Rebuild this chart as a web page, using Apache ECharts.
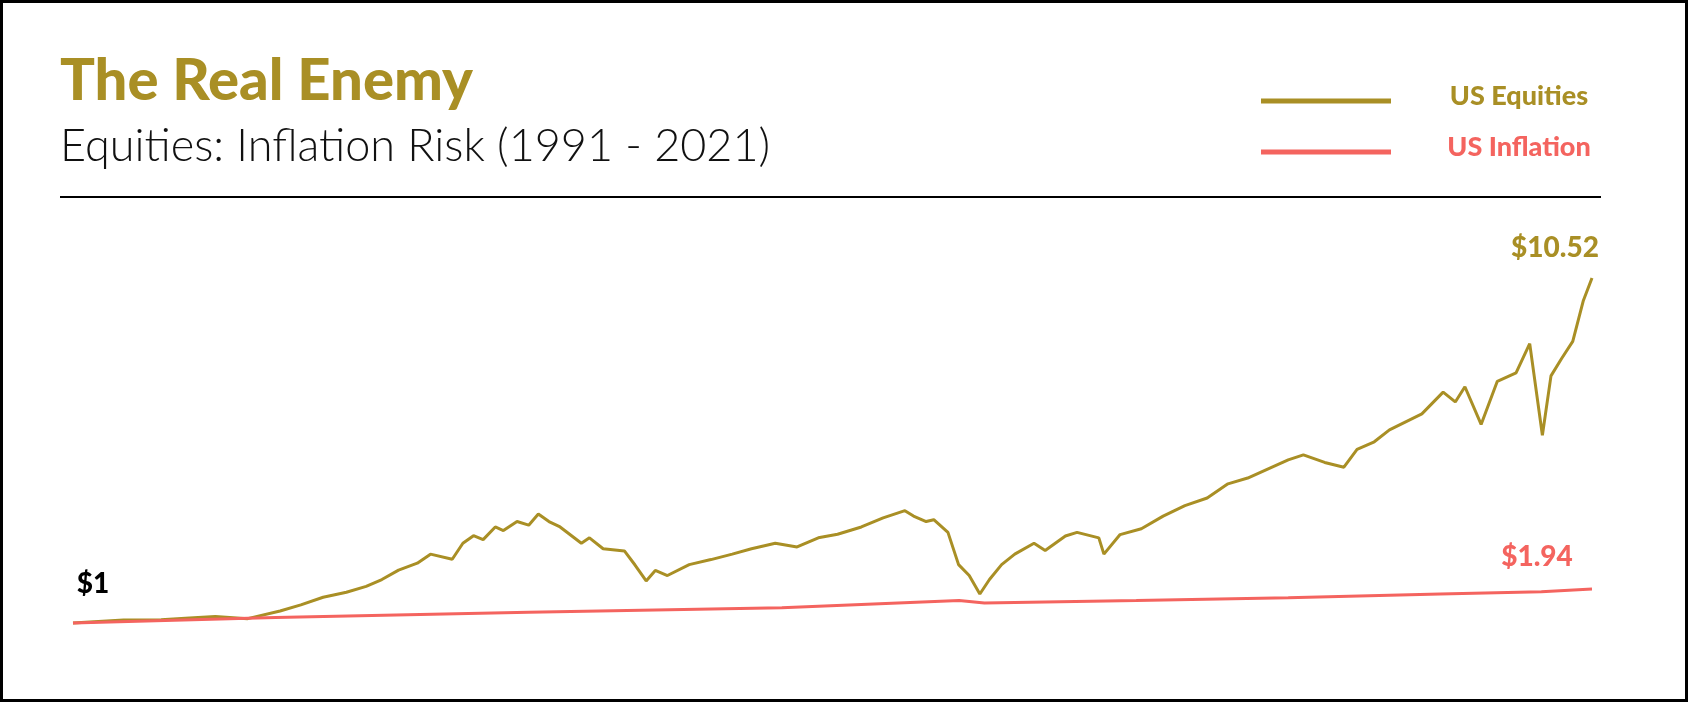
<!DOCTYPE html>
<html>
<head>
<meta charset="utf-8">
<script src="https://cdn.jsdelivr.net/npm/echarts@6/dist/echarts.min.js"></script>
<style>
html,body{margin:0;padding:0;background:#fff}
#chart{width:1688px;height:702px;box-sizing:border-box;border:3px solid #000}
</style>
</head>
<body>
<div id="chart"></div>
<script>
// years (decimal) and growth of $1
const equityYears = [1991.0,1991.5,1992.0,1992.74,1993.3,1993.81,1994.45,1995.09,1995.5,1995.94,1996.4,1996.79,1997.1,1997.43,1997.8,1998.06,1998.49,1998.7,1998.91,1999.1,1999.34,1999.5,1999.77,2000.0,2000.19,2000.4,2000.62,2001.04,2001.2,2001.47,2001.89,2002.1,2002.32,2002.5,2002.74,2003.17,2003.6,2004.02,2004.4,2004.87,2005.3,2005.72,2006.1,2006.57,2007.0,2007.43,2007.6,2007.85,2008.0,2008.28,2008.49,2008.70,2008.91,2009.1,2009.34,2009.6,2009.98,2010.2,2010.40,2010.6,2010.83,2011.26,2011.36,2011.68,2012.1,2012.53,2012.96,2013.4,2013.81,2014.2,2014.66,2015.0,2015.30,2015.72,2016.1,2016.36,2016.7,2017.0,2017.64,2018.06,2018.3,2018.49,2018.81,2019.13,2019.5,2019.77,2020.02,2020.19,2020.4,2020.62,2020.83,2021.0]
const equityValues = [1.0,1.04,1.08,1.09,1.14,1.18,1.12,1.33,1.5,1.71,1.85,2.01,2.2,2.46,2.65,2.90,2.76,3.2,3.41,3.3,3.65,3.55,3.80,3.7,4.01,3.8,3.65,3.20,3.35,3.05,2.99,2.6,2.16,2.45,2.31,2.61,2.75,2.90,3.05,3.20,3.1,3.35,3.45,3.65,3.9,4.10,3.95,3.80,3.85,3.50,2.61,2.31,1.80,2.2,2.61,2.9,3.20,3.0,3.20,3.4,3.50,3.35,2.90,3.44,3.6,3.95,4.24,4.45,4.84,5.0,5.29,5.5,5.64,5.43,5.3,5.79,6.0,6.33,6.77,7.37,7.1,7.52,6.48,7.67,7.9,8.71,6.18,7.82,8.3,8.77,9.90,10.52]
const inflationYears = [1991,1995,2000,2005,2008.5,2009,2012,2015,2018,2020,2021]
const inflationValues = [1.0,1.15,1.3,1.42,1.62,1.55,1.62,1.7,1.8,1.86,1.94]

const gold = '#a98f25'
const red = '#f4645f'
const font = 'Lato'

let chart = echarts.init(document.getElementById('chart'))
chart.setOption({
  animation: false,
  grid: {left: 70, right: 93, top: 275, bottom: 76},
  xAxis: {type: 'value', min: 1991, max: 2021, show: false},
  yAxis: {type: 'value', min: 1, max: 10.52, show: false},
  series: [
    {type: 'line', data: equityYears.map((y, i) => [y, equityValues[i]]), showSymbol: false, clip: false,
      lineStyle: {color: gold, width: 3}},
    {type: 'line', data: inflationYears.map((y, i) => [y, inflationValues[i]]), showSymbol: false, clip: false,
      lineStyle: {color: red, width: 3}}
  ],
  graphic: [
    {type: 'text', x: 57, y: 78, style: {text: 'The Real Enemy', fill: gold, font: '900 58px ' + font, verticalAlign: 'middle'}},
    {type: 'text', x: 57, y: 143, style: {text: 'Equities: Inflation Risk (1991 - 2021)', fill: '#111', font: '300 45px ' + font, verticalAlign: 'middle'}},
    {type: 'line', shape: {x1: 57, y1: 194, x2: 1598, y2: 194}, style: {stroke: '#000', lineWidth: 2}},
    {type: 'line', shape: {x1: 1258, y1: 98, x2: 1388, y2: 98}, style: {stroke: gold, lineWidth: 5}},
    {type: 'line', shape: {x1: 1258, y1: 149, x2: 1388, y2: 149}, style: {stroke: red, lineWidth: 5}},
    {type: 'text', x: 1516, y: 93, style: {text: 'US Equities', fill: gold, font: '900 27px ' + font, align: 'center', verticalAlign: 'middle'}},
    {type: 'text', x: 1516, y: 144, style: {text: 'US Inflation', fill: red, font: '900 27px ' + font, align: 'center', verticalAlign: 'middle'}},
    {type: 'text', x: 1552, y: 245, style: {text: '$10.52', fill: gold, font: '900 28px ' + font, align: 'center', verticalAlign: 'middle'}},
    {type: 'text', x: 1534, y: 554, style: {text: '$1.94', fill: red, font: '900 28px ' + font, align: 'center', verticalAlign: 'middle'}},
    {type: 'text', x: 90, y: 581, style: {text: '$1', fill: '#000', font: '900 28px ' + font, align: 'center', verticalAlign: 'middle'}}
  ]
})
</script>
</body>
</html>
